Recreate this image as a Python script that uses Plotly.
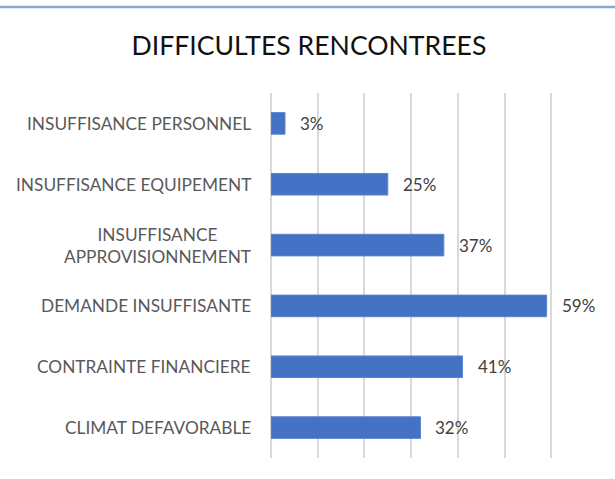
import plotly.graph_objects as go

categories = ["INSUFFISANCE PERSONNEL", "INSUFFISANCE EQUIPEMENT",
              "INSUFFISANCE<br>APPROVISIONNEMENT", "DEMANDE INSUFFISANTE",
              "CONTRAINTE FINANCIERE", "CLIMAT DEFAVORABLE"]
values = [0.03, 0.25, 0.37, 0.59, 0.41, 0.32]
value_labels = ["3%", "25%", "37%", "59%", "41%", "32%"]
title_text = "DIFFICULTES RENCONTREES"

FONT = "Lato"
W, H = 615, 479
L, R, T, B = 271, 17, 93, 21

fig = go.Figure()
fig.add_trace(go.Bar(
    y=categories, x=values, orientation="h",
    marker=dict(color="#4472C4", line=dict(color="#5a84cf", width=1)),
    width=0.355, hoverinfo="skip",
))

annotations = []
for c, v, t in zip(categories, values, value_labels):
    annotations.append(dict(x=v, y=c, xref="x", yref="y", text=t, showarrow=False,
                            xanchor="left", yanchor="middle", xshift=13,
                            font=dict(family=FONT, size=17, color="#404040")))
    annotations.append(dict(x=0, y=c, xref="paper", yref="y", text=c, showarrow=False,
                            xanchor="right", yanchor="middle", xshift=-18, align="center",
                            font=dict(family=FONT, size=17.3, color="#595959")))

fig.add_shape(type="line", xref="paper", yref="paper",
              x0=-L / (W - L - R), x1=(W - L) / (W - L - R),
              y0=(H - B - 7) / (H - T - B), y1=(H - B - 7) / (H - T - B),
              line=dict(color="#84a8d2", width=2.5))

fig.update_layout(
    width=W, height=H,
    margin=dict(l=L, r=R, t=T, b=B),
    paper_bgcolor="white", plot_bgcolor="white",
    showlegend=False,
    title=dict(text=title_text, x=309 / W, xref="container", xanchor="center",
               y=1 - 46 / H, yref="container", yanchor="middle",
               font=dict(family=FONT, size=26.6, color="#111111")),
    xaxis=dict(range=[0, 0.7], dtick=0.1, showticklabels=False, showgrid=True,
               gridcolor="#d9d9d9", gridwidth=1.5, zeroline=True, zerolinecolor="#d9d9d9",
               zerolinewidth=1.5, fixedrange=True),
    yaxis=dict(categoryorder="array", categoryarray=categories[::-1],
               showticklabels=False, showgrid=False, zeroline=False, fixedrange=True),
    annotations=annotations,
)

fig.write_html("out.html", config={"displayModeBar": False},
               post_script="document.body.style.margin='0';document.body.style.overflow='hidden';")
